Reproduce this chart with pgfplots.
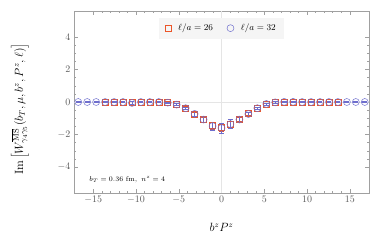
\documentclass[border=0pt]{standalone}
\usepackage{pgfplots}
\pgfplotsset{compat=1.18}
\usepackage{pgfplotstable}
\definecolor{corange}{RGB}{235,85,40}
\definecolor{cblue}{RGB}{110,110,205}
\definecolor{frame}{RGB}{160,160,160}
\pgfplotstableread{
x y e
-13.614 0.00 0.04
-12.566 0.00 0.04
-11.519 0.00 0.04
-10.472 -0.04 0.08
-9.425 0.00 0.04
-8.378 0.00 0.04
-7.330 0.00 0.04
-6.283 -0.03 0.05
-5.236 -0.14 0.06
-4.189 -0.36 0.08
-3.142 -0.74 0.12
-2.094 -1.07 0.15
-1.047 -1.45 0.20
0.000 -1.55 0.22
1.047 -1.38 0.22
2.094 -1.06 0.15
3.142 -0.72 0.12
4.189 -0.37 0.08
5.236 -0.12 0.06
6.283 -0.02 0.05
7.330 0.01 0.04
8.378 0.01 0.04
9.425 0.01 0.04
10.472 0.01 0.04
11.519 0.01 0.04
12.566 0.01 0.04
13.614 0.01 0.04
}\tabA
\pgfplotstableread{
x y e
-16.755 0.00 0.04
-15.708 0.00 0.04
-14.661 0.00 0.04
-13.614 0.00 0.04
-12.566 0.00 0.04
-11.519 0.00 0.04
-10.472 -0.06 0.08
-9.425 0.00 0.04
-8.378 0.00 0.04
-7.330 0.00 0.04
-6.283 -0.04 0.05
-5.236 -0.16 0.06
-4.189 -0.38 0.09
-3.142 -0.73 0.14
-2.094 -1.08 0.18
-1.047 -1.48 0.24
0.000 -1.60 0.30
1.047 -1.36 0.28
2.094 -1.08 0.18
3.142 -0.74 0.14
4.189 -0.38 0.09
5.236 -0.12 0.06
6.283 -0.02 0.05
7.330 0.01 0.04
8.378 0.01 0.04
9.425 0.00 0.04
10.472 0.00 0.04
11.519 0.00 0.04
12.566 0.00 0.04
13.614 0.00 0.04
14.661 0.00 0.04
15.708 0.00 0.04
16.755 0.00 0.04
}\tabB
\begin{document}
\begin{tikzpicture}
\begin{axis}[
  scale only axis,
  width=295bp, height=182bp,
  xmin=-17.25, xmax=17.25,
  ymin=-5.6, ymax=5.6,
  xtick={-15,-10,-5,0,5,10,15},
  ytick={-4,-2,0,2,4},
  minor x tick num=4,
  minor y tick num=3,
  tick align=inside,
  major tick length=4bp,
  minor tick length=2bp,
  every tick/.style={frame},
  axis line style={frame},
  tick label style={font=\normalsize, text=black!65},
  extra x ticks={0}, extra x tick labels={},
  extra y ticks={0}, extra y tick labels={},
  extra tick style={grid=major, major grid style={gray!20, line width=0.4pt}, major tick length=0pt},
  xlabel={$b^z P^z$},
  ylabel={$\mathrm{Im}\left[W^{\overline{\mathrm{MS}}}_{\gamma_4\gamma_5}(b_T,\mu,b^z,P^z,\ell)\right]$},
  xlabel style={at={(axis description cs:0.5,-0.19)}, anchor=center, font=\large},
  ylabel style={at={(axis description cs:-0.183,0.46)}, anchor=center, font=\large},
  legend style={at={(0.5,0.965)}, anchor=north, fill=gray!8, draw=none, font=\small, legend columns=2,
    /tikz/every odd column/.append style={column sep=5bp},
    /tikz/every even column/.append style={column sep=12bp}, inner ysep=4.5bp, inner xsep=6bp},
  legend cell align=left,
]
\addplot[corange, only marks, mark=square, mark size=3pt, mark options={corange, line width=0.6pt},
  legend image code/.code={\draw[corange, line width=0.8pt] plot[mark=square, mark size=3pt] coordinates {(0.3cm,0cm)};},
  error bars/.cd, y dir=both, y explicit, error bar style={corange, line width=0.5pt}, error mark options={rotate=90, corange, mark size=2.5pt}]
  table[x=x, y=y, y error=e] {\tabA};
\addlegendentry{$\ell/a=26$}
\addplot[cblue, only marks, mark=o, mark size=3.5pt, mark options={cblue, line width=0.5pt},
  legend image code/.code={\draw[cblue, line width=0.5pt] plot[mark=o, mark size=3.5pt] coordinates {(0.3cm,0cm)};},
  error bars/.cd, y dir=both, y explicit, error bar style={cblue, line width=0.5pt}, error mark options={rotate=90, cblue, mark size=2.5pt}]
  table[x=x, y=y, y error=e] {\tabB};
\addlegendentry{$\ell/a=32$}
\node[anchor=west, font=\scriptsize] at (axis description cs:0.04,0.075) {$b_T=0.36~\mathrm{fm},~n^z=4$};
\end{axis}
\pgfresetboundingbox
\path[use as bounding box] (-74bp,-50bp) rectangle (308bp,193bp);
\end{tikzpicture}
\end{document}
